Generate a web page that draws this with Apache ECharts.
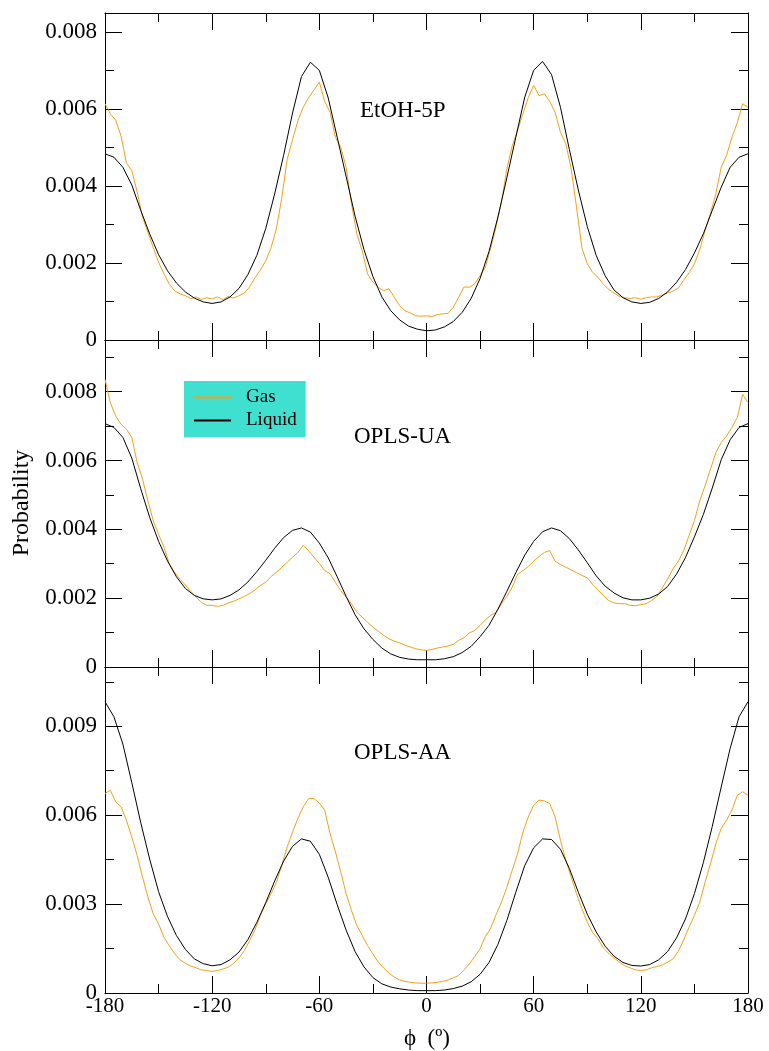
<!DOCTYPE html>
<html>
<head>
<meta charset="utf-8">
<title>Dihedral distributions</title>
<script src="https://cdn.jsdelivr.net/npm/echarts@6/dist/echarts.min.js"></script>
<style>
  html, body { margin: 0; padding: 0; background: #fff; }
  #chart { width: 769px; height: 1051px; }
</style>
</head>
<body>
<div id="chart"></div>
<script>
// Dihedral angle phi (degrees): gas histograms every 3 deg, liquid every 5 deg
const gasPhi = Array.from({ length: 121 }, (_, i) => -180 + 3 * i);
const liquidPhi = Array.from({ length: 73 }, (_, i) => -180 + 5 * i);

// Probabilities, in units of 1e-3
const etohGas = [
  6.14, 5.88, 5.71, 5.30, 4.60, 4.41, 3.85, 3.20, 2.80, 2.40, 2.02, 1.72, 1.45, 1.28, 1.20, 1.15,
  1.08, 1.12, 1.05, 1.10, 1.07, 1.12, 1.05, 1.13, 1.09, 1.15, 1.22, 1.38, 1.62, 1.82, 2.06, 2.40,
  2.90, 3.70, 4.70, 5.20, 5.70, 6.05, 6.30, 6.50, 6.70, 6.20, 5.92, 5.27, 5.01, 4.49, 3.54, 2.76,
  2.32, 1.72, 1.50, 1.37, 1.28, 1.33, 1.11, 0.89, 0.76, 0.70, 0.63, 0.62, 0.63,
  0.61, 0.66, 0.68, 0.69, 0.85, 1.11, 1.38, 1.37, 1.46, 1.67, 1.90, 2.40, 2.95, 3.60, 4.45, 5.05,
  5.45, 5.88, 6.30, 6.62, 6.35, 6.40, 6.20, 5.92, 5.40, 5.10, 4.45, 3.45, 2.40, 1.98, 1.76, 1.63,
  1.45, 1.32, 1.22, 1.13, 1.10, 1.08, 1.10, 1.06, 1.10, 1.12, 1.12, 1.17, 1.22, 1.27, 1.35, 1.55,
  1.75, 1.98, 2.35, 2.85, 3.30, 3.80, 4.49, 4.80, 5.27, 5.65, 6.14, 6.05
];
const etohLiquid = [
  4.84, 4.75, 4.49, 4.03, 3.37, 2.76, 2.22, 1.80, 1.48, 1.25, 1.09, 0.99, 0.95, 0.99, 1.12, 1.34,
  1.70, 2.20, 2.90, 3.80, 4.80, 5.90, 6.85, 7.22, 7.01, 6.29, 5.27, 4.25, 3.22, 2.35, 1.65, 1.12,
  0.76, 0.52, 0.36, 0.28, 0.24,
  0.26, 0.34, 0.48, 0.72, 1.08, 1.60, 2.30, 3.20, 4.22, 5.27, 6.31, 7.01, 7.24, 6.90, 6.05, 4.95,
  3.90, 2.95, 2.20, 1.67, 1.30, 1.10, 0.99, 0.95, 0.98, 1.08, 1.25, 1.50, 1.83, 2.26, 2.76, 3.37,
  3.97, 4.49, 4.75, 4.84
];
const uaGas = [
  8.36, 7.68, 7.29, 7.05, 6.91, 6.67, 5.94, 5.46, 4.83, 4.25, 3.86, 3.48, 3.00, 2.75, 2.55, 2.38,
  2.20, 2.03, 1.88, 1.79, 1.79, 1.76, 1.79, 1.86, 1.91, 1.98, 2.05, 2.13, 2.24, 2.37, 2.46, 2.63,
  2.75, 2.90, 3.04, 3.19, 3.33, 3.53, 3.38, 3.19, 3.01, 2.80, 2.71, 2.46, 2.22, 2.03, 1.84, 1.59,
  1.45, 1.30, 1.16, 1.04, 0.92, 0.82, 0.75, 0.70, 0.63, 0.58, 0.53, 0.50, 0.48,
  0.51, 0.55, 0.58, 0.61, 0.66, 0.77, 0.85, 0.99, 1.06, 1.21, 1.37, 1.50, 1.59, 1.84, 2.05, 2.32,
  2.69, 2.80, 2.92, 3.07, 3.21, 3.33, 3.38, 3.07, 2.98, 2.90, 2.82, 2.74, 2.66, 2.59, 2.40, 2.24,
  2.08, 1.93, 1.86, 1.84, 1.84, 1.79, 1.78, 1.81, 1.84, 1.93, 2.05, 2.30, 2.56, 2.85, 3.07, 3.38,
  3.82, 4.25, 4.83, 5.27, 5.75, 6.23, 6.52, 6.71, 6.96, 7.25, 7.92, 7.68
];
const uaLiquid = [
  7.07, 6.96, 6.67, 6.07, 5.18, 4.35, 3.65, 3.08, 2.62, 2.28, 2.08, 1.98, 1.95, 1.98, 2.08, 2.24,
  2.47, 2.77, 3.10, 3.45, 3.76, 3.97, 4.04, 3.92, 3.60, 3.17, 2.62, 2.05, 1.52, 1.11, 0.80, 0.55,
  0.38, 0.28, 0.23, 0.21, 0.21,
  0.21, 0.24, 0.30, 0.42, 0.60, 0.88, 1.21, 1.68, 2.20, 2.74, 3.25, 3.65, 3.93, 4.04, 3.96, 3.73,
  3.40, 3.03, 2.65, 2.35, 2.15, 2.01, 1.95, 1.95, 2.00, 2.12, 2.34, 2.70, 3.18, 3.78, 4.43, 5.20,
  6.02, 6.60, 6.96, 7.07
];
const aaGas = [
  6.73, 6.84, 6.45, 6.28, 5.83, 5.26, 4.64, 3.91, 3.24, 2.67, 2.33, 1.88, 1.60, 1.32, 1.12, 1.00,
  0.91, 0.85, 0.78, 0.76, 0.73, 0.76, 0.81, 0.87, 1.00, 1.18, 1.43, 1.77, 2.13, 2.62, 3.01, 3.35,
  3.74, 4.31, 4.93, 5.43, 5.89, 6.28, 6.56, 6.56, 6.41, 6.17, 5.38, 4.76, 4.08, 3.35, 2.78, 2.28,
  1.94, 1.60, 1.32, 1.04, 0.85, 0.67, 0.53, 0.44, 0.39, 0.36, 0.34, 0.33, 0.33,
  0.34, 0.36, 0.39, 0.44, 0.51, 0.59, 0.78, 0.98, 1.23, 1.49, 1.91, 2.19, 2.65, 3.07, 3.57, 4.14,
  4.70, 5.43, 5.94, 6.34, 6.51, 6.48, 6.39, 5.94, 5.15, 4.48, 3.91, 3.35, 2.84, 2.39, 2.05, 1.83,
  1.52, 1.34, 1.18, 1.04, 0.92, 0.85, 0.78, 0.76, 0.78, 0.85, 0.89, 0.95, 1.04, 1.15, 1.41, 1.79,
  2.22, 2.62, 3.07, 3.74, 4.36, 5.04, 5.55, 5.83, 6.17, 6.67, 6.79, 6.67
];
const aaLiquid = [
  9.83, 9.32, 8.40, 7.10, 5.75, 4.52, 3.42, 2.58, 1.94, 1.47, 1.15, 0.99, 0.92, 0.96, 1.12, 1.38,
  1.80, 2.38, 3.05, 3.78, 4.45, 4.95, 5.20, 5.12, 4.68, 3.90, 2.98, 2.12, 1.40, 0.88, 0.52, 0.31,
  0.20, 0.14, 0.10, 0.08, 0.08,
  0.08, 0.10, 0.15, 0.23, 0.38, 0.63, 1.03, 1.64, 2.45, 3.40, 4.30, 4.90, 5.20, 5.18, 4.85, 4.20,
  3.40, 2.66, 2.06, 1.58, 1.24, 1.03, 0.93, 0.91, 0.96, 1.12, 1.40, 1.86, 2.50, 3.35, 4.40, 5.62,
  6.95, 8.25, 9.32, 9.83
];

// Axis tick settings
const phiTicks = { min: -180, max: 180, step: 60, minorSplit: 2 };
const seriesNames = ['Gas', 'Liquid'];
const PER_MILLE = 1e-3;

const FONT = '"Liberation Serif", "Times New Roman", serif';
const GAS_COLOR = '#F0A21A';
const LIQUID_COLOR = '#000000';

const panels = [
  { title: 'EtOH-5P', gas: etohGas, liquid: etohLiquid, yMax: 0.0085, yMajor: 0.002, yMinor: 0.001,
    top: 13, height: 327, titleAt: [360, 111] },
  { title: 'OPLS-UA', gas: uaGas, liquid: uaLiquid, yMax: 0.0095, yMajor: 0.002, yMinor: 0.001,
    top: 340, height: 327, titleAt: [354, 437] },
  { title: 'OPLS-AA', gas: aaGas, liquid: aaLiquid, yMax: 0.011, yMajor: 0.003, yMinor: 0.0015,
    top: 667, height: 326, titleAt: [354, 753] }
];

const LEFT = 105, WIDTH = 643;
const MAJOR_LEN = 17, MINOR_LEN = 9;
const lineCol = { color: '#000', width: 1 };

const grid = [], xAxis = [], yAxis = [], series = [], graphic = [];

// main grids (0..2) carry the data and major ticks; overlay grids (3..5) carry y minor ticks
panels.forEach((p, g) => {
  grid[g] = { left: LEFT, width: WIDTH, top: p.top, height: p.height, containLabel: false };
  grid[g + 3] = { left: LEFT, width: WIDTH, top: p.top, height: p.height, containLabel: false };

  const isLast = g === panels.length - 1;
  const xBase = {
    gridIndex: g, type: 'value', min: phiTicks.min, max: phiTicks.max, interval: phiTicks.step,
    axisLine: { show: true, onZero: false, lineStyle: lineCol },
    axisTick: { show: true, inside: true, length: MAJOR_LEN, lineStyle: lineCol },
    minorTick: { show: true, splitNumber: phiTicks.minorSplit, length: MINOR_LEN, lineStyle: lineCol },
    splitLine: { show: false }, minorSplitLine: { show: false }
  };
  xAxis[2 * g] = Object.assign({}, xBase, {
    position: 'bottom',
    axisLabel: { show: isLast, margin: 3, fontFamily: FONT, fontSize: 21, color: '#000' }
  });
  xAxis[2 * g + 1] = Object.assign({}, xBase, { position: 'top', axisLabel: { show: false } });
  xAxis[6 + g] = { gridIndex: g + 3, type: 'value', min: phiTicks.min, max: phiTicks.max, show: false };

  const fmt = v => {
    const k = v / p.yMajor;
    if (Math.abs(k - Math.round(k)) > 1e-6) return '';
    return v === 0 ? '0' : v.toFixed(3);
  };
  const yBase = {
    gridIndex: g, type: 'value', min: 0, max: p.yMax, interval: p.yMajor,
    axisLine: { show: true, onZero: false, lineStyle: lineCol },
    axisTick: { show: true, inside: true, length: MAJOR_LEN, lineStyle: lineCol },
    splitLine: { show: false }
  };
  yAxis[2 * g] = Object.assign({}, yBase, {
    position: 'left',
    axisLabel: { show: true, margin: 8, formatter: fmt, fontFamily: FONT, fontSize: 23, color: '#000' }
  });
  yAxis[2 * g + 1] = Object.assign({}, yBase, { position: 'right', axisLabel: { show: false } });

  const yMinorBase = {
    gridIndex: g + 3, type: 'value', min: 0, max: p.yMax, interval: p.yMinor,
    axisLine: { show: false, onZero: false },
    axisTick: { show: true, inside: true, length: MINOR_LEN, lineStyle: lineCol },
    axisLabel: { show: false }, splitLine: { show: false }
  };
  yAxis[6 + 2 * g] = Object.assign({}, yMinorBase, { position: 'left' });
  yAxis[7 + 2 * g] = Object.assign({}, yMinorBase, { position: 'right' });

  series.push({
    name: seriesNames[0], type: 'line', xAxisIndex: 2 * g, yAxisIndex: 2 * g,
    data: p.gas.map((v, i) => [gasPhi[i], v * PER_MILLE]),
    symbol: 'none', color: GAS_COLOR, lineStyle: { color: GAS_COLOR, width: 1 }, z: 2
  });
  series.push({
    name: seriesNames[1], type: 'line', xAxisIndex: 2 * g, yAxisIndex: 2 * g,
    data: p.liquid.map((v, i) => [liquidPhi[i], v * PER_MILLE]),
    symbol: 'none', color: LIQUID_COLOR, lineStyle: { color: LIQUID_COLOR, width: 1 }, z: 3
  });

  graphic.push({
    type: 'text', x: p.titleAt[0], y: p.titleAt[1],
    style: { text: p.title, fontFamily: FONT, fontSize: 23, fill: '#000', verticalAlign: 'middle' }
  });
});

graphic.push({
  type: 'text', x: 22, y: 503, rotation: Math.PI / 2,
  style: { text: 'Probability', fontFamily: FONT, fontSize: 24, fill: '#000', align: 'center', verticalAlign: 'middle' }
});
graphic.push({
  type: 'text', x: 427, y: 1039,
  style: { text: 'ϕ  (º)', fontFamily: FONT, fontSize: 23, fill: '#000', align: 'center', verticalAlign: 'middle' }
});

const chart = echarts.init(document.getElementById('chart'), null, { renderer: 'canvas' });
chart.setOption({
  animation: false,
  backgroundColor: '#fff',
  grid, xAxis, yAxis, series, graphic,
  legend: {
    data: seriesNames, orient: 'vertical', left: 184, top: 381,
    backgroundColor: '#40E0D0', padding: [7, 9, 7, 9],
    itemWidth: 37, itemHeight: 19, itemGap: 4, selectedMode: false,
    // plain line keys: keep the line, drop the point marker
    itemStyle: { color: 'rgba(0,0,0,0)', borderWidth: 0, opacity: 0 },
    textStyle: { fontFamily: FONT, fontSize: 19, color: '#000', padding: [0, 0, 0, 10] }
  }
});
</script>
</body>
</html>
